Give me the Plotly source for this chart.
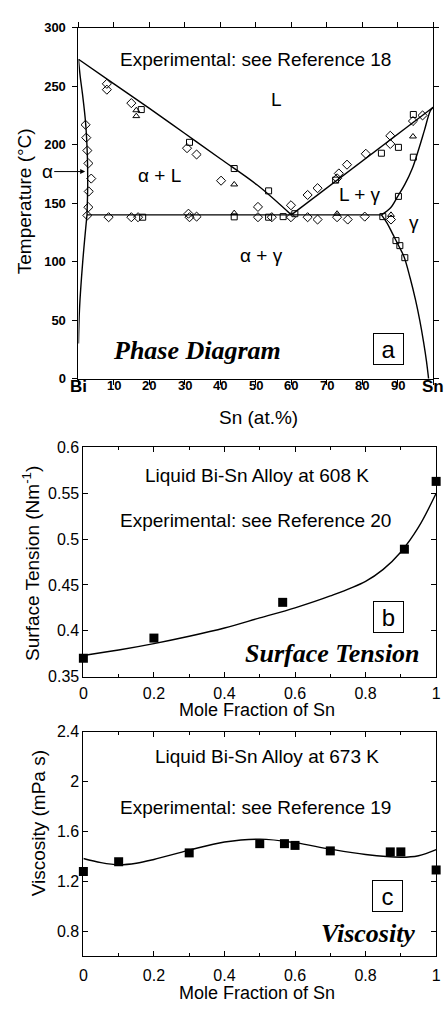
import plotly.graph_objects as go

# ---------------- Panel a: phase diagram (Sn at.%, temperature °C) ----------------
LIQ_L_X = [0, 10, 20, 30, 40, 50.4, 60]
LIQ_L_T = [273, 252, 231, 209.5, 188, 165.5, 140]
LIQ_R_X = [60, 100]
LIQ_R_T = [140, 232]
EUT_X = [2.4, 85.4]
EUT_T = [140, 140]
ALPHA_SOL_X = [0, 0.5, 1.1, 2.0, 2.5, 2.6, 2.4]
ALPHA_SOL_T = [273, 258, 244, 219, 191, 165, 140]
ALPHA_SOLV_X = [2.4, 1.2, 0.3, 0]
ALPHA_SOLV_T = [140, 100, 60, 30]
GAMMA_SOL_X = [85.4, 88, 90, 92, 94.1, 96, 97.5, 99.2, 100]
GAMMA_SOL_T = [140, 146, 155.8, 166, 179.6, 197, 212, 229, 232]
GAMMA_SOLV_X = [85.4, 87, 88.6, 90.2, 91.8, 93.5, 95, 96.2, 97.3, 98.1, 98.7]
GAMMA_SOLV_T = [140, 133, 123.5, 114, 104, 86, 67.5, 50, 31, 15, 0]

DIA_X = [2.0, 2.2, 2.5, 2.8, 3.6, 2.9, 2.8, 2.5,
         8.0, 8.0, 14.9, 30.6, 33.3, 40.2, 59.9, 50.6,
         8.5, 14.9, 16.8, 31.0, 31.3, 33.3, 50.6, 54.5, 59.9, 64.6, 67.4, 72.9, 75.9, 80.7, 88.1,
         64.6, 67.4, 72.9, 73.4, 75.7, 81.0, 87.9, 87.9, 94.3, 97.0]
DIA_T = [217, 206, 195, 184, 171, 160, 146.5, 139.5,
         252, 247, 235.5, 197, 191.6, 169.2, 148.2, 146.8,
         138, 138, 138, 141, 138, 138.5, 138, 138, 138, 138, 136, 138, 136, 138.5, 136,
         157, 162.8, 171.2, 175.4, 182.9, 192.2, 207.6, 200.6, 220.2, 225]
SQ_X = [17.7, 18.1, 31.3, 43.9, 53.6, 43.9, 53.6, 57.7, 61.0, 85.8, 72.5, 85.4, 90.2,
        94.4, 94.4, 90.2, 89.5, 90.6, 92.0]
SQ_T = [230, 138, 202, 179.6, 160.5, 138.3, 138, 138.5, 141, 138.5, 169.7, 192.7, 197.7,
        225.8, 189.3, 155.8, 118, 113.7, 103.4]
TRI_X = [16.3, 16.3, 43.9, 43.9, 72.9, 94.3, 88.1]
TRI_T = [229.4, 224.4, 166, 141.5, 141, 207, 140]

A_TICKVALS = [0, 10, 20, 30, 40, 50, 60, 70, 80, 90, 100]
A_TICKTEXT = ["Bi", "10", "20", "30", "40", "50", "60", "70", "80", "90", "Sn"]
A_YTICKS = [0, 50, 100, 150, 200, 250, 300]

# ---------------- Panel b: surface tension ----------------
ST_X = [0, 0.2, 0.565, 0.91, 1.0]
ST_Y = [0.370, 0.392, 0.431, 0.489, 0.563]
ST_FIT_X = [0, 0.1, 0.2, 0.3, 0.4, 0.5, 0.6, 0.7, 0.8, 0.85, 0.9, 0.95, 1.0]
ST_FIT_Y = [0.373, 0.379, 0.386, 0.394, 0.403, 0.414, 0.425, 0.438, 0.454, 0.467, 0.486, 0.513, 0.550]
B_XTICKS = [0, 0.2, 0.4, 0.6, 0.8, 1]
B_XTEXT = ["0", "0.2", "0.4", "0.6", "0.8", "1"]
B_YTICKS = [0.35, 0.4, 0.45, 0.5, 0.55, 0.6]
B_YTEXT = ["0.35", "0.4", "0.45", "0.5", "0.55", "0.6"]

# ---------------- Panel c: viscosity ----------------
VI_X = [0, 0.1, 0.3, 0.5, 0.57, 0.6, 0.7, 0.87, 0.9, 1.0]
VI_Y = [1.279, 1.357, 1.428, 1.502, 1.502, 1.488, 1.444, 1.436, 1.436, 1.291]
VI_FIT_X = [0, 0.05, 0.1, 0.15, 0.2, 0.3, 0.4, 0.5, 0.6, 0.7, 0.8, 0.9, 0.95, 1.0]
VI_FIT_Y = [1.383, 1.350, 1.333, 1.345, 1.375, 1.450, 1.515, 1.538, 1.510, 1.458, 1.415, 1.393, 1.405, 1.454]
C_YTICKS = [0.8, 1.2, 1.6, 2.0, 2.4]
C_YTEXT = ["0.8", "1.2", "1.6", "2", "2.4"]

SANS = "Liberation Sans, Arial, Helvetica, sans-serif"
SERIF = "Liberation Serif, Times New Roman, serif"
W, H = 448, 1011

fig = go.Figure()

line_style = dict(color="black", width=1.4)
for xs, ts, shape in [(LIQ_L_X, LIQ_L_T, "spline"), (LIQ_R_X, LIQ_R_T, "linear"),
                      (EUT_X, EUT_T, "linear"), (ALPHA_SOL_X, ALPHA_SOL_T, "spline"),
                      (ALPHA_SOLV_X, ALPHA_SOLV_T, "spline"), (GAMMA_SOL_X, GAMMA_SOL_T, "spline"),
                      (GAMMA_SOLV_X, GAMMA_SOLV_T, "spline")]:
    fig.add_trace(go.Scatter(x=xs, y=ts, mode="lines", line=dict(shape=shape, **line_style),
                             xaxis="x", yaxis="y", showlegend=False, hoverinfo="skip"))

for xs, ts, sym, sz in [(DIA_X, DIA_T, "diamond-open", 7), (SQ_X, SQ_T, "square-open", 6),
                        (TRI_X, TRI_T, "triangle-up-open", 6)]:
    fig.add_trace(go.Scatter(x=xs, y=ts, mode="markers",
                             marker=dict(symbol=sym, size=sz, color="black", line=dict(width=1, color="black")),
                             xaxis="x", yaxis="y", showlegend=False))

fig.add_trace(go.Scatter(x=ST_FIT_X, y=ST_FIT_Y, mode="lines", line=dict(shape="spline", **line_style),
                         xaxis="x2", yaxis="y2", showlegend=False))
fig.add_trace(go.Scatter(x=ST_X, y=ST_Y, mode="markers", marker=dict(symbol="square", size=9, color="black"),
                         xaxis="x2", yaxis="y2", showlegend=False, cliponaxis=False))

fig.add_trace(go.Scatter(x=VI_FIT_X, y=VI_FIT_Y, mode="lines", line=dict(shape="spline", **line_style),
                         xaxis="x3", yaxis="y3", showlegend=False))
fig.add_trace(go.Scatter(x=VI_X, y=VI_Y, mode="markers", marker=dict(symbol="square", size=9, color="black"),
                         xaxis="x3", yaxis="y3", showlegend=False, cliponaxis=False))

def px_x(p):
    return p / W

def px_y(p):
    return 1 - p / H

common = dict(showgrid=False, zeroline=False, showline=True, linecolor="black", linewidth=1,
              mirror="ticks", tickcolor="black", ticklen=5, tickwidth=1)

fig.update_layout(
    width=W, height=H, autosize=False,
    margin=dict(l=0, r=0, t=0, b=0),
    paper_bgcolor="white", plot_bgcolor="white",
    font=dict(family=SANS, color="black", size=18),
    xaxis=dict(domain=[px_x(76), px_x(438)], anchor="y", range=[0, 100], ticks="outside",
               tickvals=A_TICKVALS, showticklabels=False, **common),
    yaxis=dict(domain=[px_y(377), px_y(20)], anchor="x", range=[0, 300], ticks="outside",
               tickvals=A_YTICKS, ticklabelstandoff=4,
               tickfont=dict(family=SANS, size=13, weight="bold"), **common),
    xaxis2=dict(domain=[px_x(81), px_x(441)], anchor="y2", range=[0, 1], ticks="inside",
                tickvals=B_XTICKS, ticktext=B_XTEXT,
                minor=dict(dtick=0.1, ticks="inside", ticklen=3, tickcolor="black"),
                ticklabelstandoff=2,
                tickfont=dict(family=SANS, size=16), **common),
    yaxis2=dict(domain=[px_y(680), px_y(447)], anchor="x2", range=[0.35, 0.6], ticks="inside",
                tickvals=B_YTICKS, ticktext=B_YTEXT,
                tickfont=dict(family=SANS, size=16), **common),
    xaxis3=dict(domain=[px_x(81), px_x(441)], anchor="y3", range=[0, 1], ticks="inside",
                tickvals=B_XTICKS, ticktext=B_XTEXT,
                minor=dict(dtick=0.1, ticks="inside", ticklen=3, tickcolor="black"),
                ticklabelstandoff=5,
                tickfont=dict(family=SANS, size=16), **common),
    yaxis3=dict(domain=[px_y(964.4), px_y(736)], anchor="x3", range=[0.6, 2.4], ticks="inside",
                tickvals=C_YTICKS, ticktext=C_YTEXT,
                tickfont=dict(family=SANS, size=16), **common),
)

ann = []

def txt(x, y, text, xref, yref, size=19, family=SANS, **kw):
    ann.append(dict(x=x, y=y, xref=xref, yref=yref, text=text, showarrow=False,
                    xanchor="center", yanchor="middle",
                    font=dict(family=family, size=size, color="black"), **kw))

def box(x, y, letter, xref, yref):
    ann.append(dict(x=x, y=y, xref=xref, yref=yref, text=letter, showarrow=False,
                    xanchor="center", yanchor="middle", width=27, height=28,
                    bordercolor="black", borderwidth=1, borderpad=1, bgcolor="white",
                    font=dict(family=SANS, size=24, color="black")))

# Panel a x tick labels (Bi / Sn ends larger)
for v, t in zip(A_TICKVALS, A_TICKTEXT):
    big = t in ("Bi", "Sn")
    txt(v, px_y(385 if big else 384), "<b>%s</b>" % t, "x", "paper", size=17 if big else 13)

# Panel a texts
txt(50, 273, "Experimental: see Reference 18", "x", "y")
txt(55.9, 238.4, "L", "x", "y")
txt(22.9, 174, "α + L", "x", "y")
txt(79.4, 157, "L + γ", "x", "y")
txt(94.6, 133.4, "γ", "x", "y")
txt(51.7, 105, "α + γ", "x", "y")
txt(33.3, 24, "<b><i>Phase Diagram</i></b>", "x", "y", size=26, family=SERIF)
ann.append(dict(x=1.9, y=177, xref="x", yref="y", text="α", showarrow=True, ax=-38, ay=0,
                arrowhead=2, arrowsize=1, arrowwidth=1, arrowcolor="black",
                font=dict(family=SANS, size=19, color="black")))
box(87.3, 25, "a", "x", "y")

# Panel b texts
txt(0.4925, 0.569, "Liquid Bi-Sn Alloy at 608 K", "x2", "y2")
txt(0.488, 0.5206, "Experimental: see Reference 20", "x2", "y2")
txt(0.7056, 0.3747, "<b><i>Surface Tension</i></b>", "x2", "y2", size=26, family=SERIF)
box(0.866, 0.4154, "b", "x2", "y2")

# Panel c texts
txt(0.52, 2.197, "Liquid Bi-Sn Alloy at 673 K", "x3", "y3")
txt(0.488, 1.79, "Experimental: see Reference 19", "x3", "y3")
txt(0.807, 0.779, "<b><i>Viscosity</i></b>", "x3", "y3", size=26, family=SERIF)
box(0.863, 1.086, "c", "x3", "y3")

# Axis titles (paper coordinates)
txt(px_x(21), px_y(197), "Temperature (°C)", "paper", "paper", textangle=-90)
txt(px_x(260), px_y(416), "Sn (at.%)", "paper", "paper")
txt(px_x(28), px_y(565), "Surface Tension (Nm<sup>-1</sup>)", "paper", "paper", textangle=-90)
txt(px_x(258), px_y(714), "Mole Fraction of Sn", "paper", "paper", size=18)
txt(px_x(35), px_y(829), "Viscosity (mPa s)", "paper", "paper", textangle=-90)
txt(px_x(258), px_y(1002), "Mole Fraction of Sn", "paper", "paper", size=18)

fig.update_layout(annotations=ann)

fig.write_html("out.html", config={"displayModeBar": False},
               post_script="document.body.style.margin='0px';")
